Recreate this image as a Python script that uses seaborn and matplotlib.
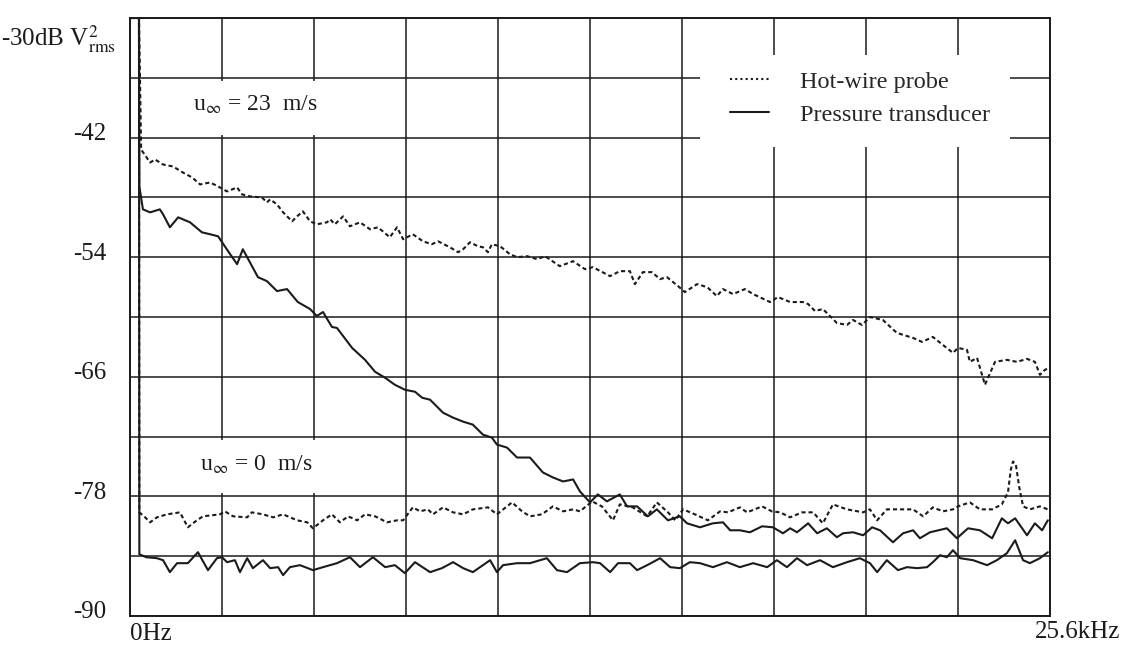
import numpy as np
import pandas as pd
import matplotlib
matplotlib.use("Agg")
import matplotlib.pyplot as plt
import matplotlib.transforms as mtransforms
import seaborn as sns
from matplotlib.patches import Rectangle
from matplotlib.lines import Line2D

# ---------------------------------------------------------------- data
# Spectra in dB V^2_rms versus frequency in kHz (0 .. 25.6 kHz)
hw23_khz = [0.0, 0.25, 0.31, 0.56, 0.70, 0.92, 1.20, 1.47, 1.73, 1.95,
            2.23, 2.45, 2.70, 2.98, 3.12, 3.34, 3.67, 3.81, 3.90, 4.09,
            4.26, 4.51, 4.65, 4.81, 5.01, 5.20, 5.48, 5.57, 5.70, 5.93,
            6.12, 6.40, 6.68, 6.90, 7.23, 7.43, 7.60, 7.87, 8.15, 8.40,
            8.57, 8.90, 9.13, 9.27, 9.46, 9.68, 9.82, 9.96, 10.07, 10.30,
            10.57, 10.77, 11.05, 11.33, 11.55, 11.96, 12.33, 12.66, 12.88, 13.36,
            13.63, 13.91, 14.05, 14.27, 14.52, 14.75, 14.94, 15.25, 15.44, 15.78,
            16.06, 16.33, 16.50, 16.78, 17.11, 17.34, 17.81, 18.03, 18.37, 18.73,
            18.87, 19.06, 19.28, 19.67, 19.95, 20.12, 20.37, 20.59, 20.95, 21.34,
            21.79, 22.04, 22.34, 22.62, 22.90, 23.04, 23.29, 23.37, 23.57, 23.79,
            24.07, 24.40, 24.68, 24.96, 25.18, 25.32, 25.46, 25.57]
hw23_db = [-30.0, -30.0, -43.2, -44.5, -44.2, -44.7, -44.9, -45.5, -46.0, -46.7,
           -46.5, -46.9, -47.4, -47.0, -47.7, -47.9, -48.0, -48.5, -48.2, -48.7,
           -49.5, -50.4, -49.9, -49.4, -50.4, -50.7, -50.5, -50.2, -50.7, -49.9,
           -50.9, -50.5, -51.2, -51.0, -52.0, -51.0, -52.2, -51.7, -52.4, -52.7,
           -52.4, -53.0, -53.5, -53.2, -52.5, -52.9, -53.0, -53.5, -52.7, -52.9,
           -53.7, -54.0, -53.9, -54.2, -53.9, -54.9, -54.4, -55.2, -55.0, -55.9,
           -55.4, -55.4, -56.7, -55.5, -55.5, -56.2, -56.0, -56.9, -57.5, -56.7,
           -57.0, -57.9, -57.2, -57.7, -57.2, -57.7, -58.5, -58.0, -58.5, -58.5,
           -58.7, -59.4, -59.2, -60.6, -60.8, -60.3, -60.8, -60.0, -60.3, -61.6,
           -62.1, -62.5, -62.0, -62.8, -63.6, -63.1, -63.3, -64.5, -64.1, -66.8,
           -64.5, -64.3, -64.5, -64.2, -64.5, -65.8, -65.3, -65.1]

pt23_khz = [0.0, 0.25, 0.26, 0.36, 0.56, 0.83, 0.92, 1.11, 1.34, 1.67,
            2.00, 2.23, 2.45, 2.73, 2.98, 3.14, 3.56, 3.81, 4.09, 4.37,
            4.67, 5.01, 5.20, 5.37, 5.62, 5.76, 6.18, 6.54, 6.82, 7.10,
            7.37, 7.65, 7.93, 8.13, 8.35, 8.71, 8.99, 9.27, 9.54, 9.82,
            10.07, 10.21, 10.49, 10.77, 11.13, 11.49, 11.77, 12.05, 12.33, 12.52,
            12.80, 13.02, 13.27, 13.63, 13.83, 14.11, 14.41, 14.66, 14.97, 15.30,
            15.50, 15.86, 16.22, 16.50, 16.70, 16.97, 17.25, 17.59, 17.89, 18.17,
            18.37, 18.56, 18.87, 19.12, 19.39, 19.67, 19.84, 20.12, 20.40, 20.65,
            20.87, 21.23, 21.51, 21.79, 21.98, 22.26, 22.73, 23.01, 23.32, 23.65,
            23.99, 24.26, 24.43, 24.63, 24.96, 25.18, 25.38, 25.54]
pt23_db = [-30.0, -30.0, -46.9, -49.2, -49.5, -49.2, -49.7, -51.0, -50.0, -50.5,
           -51.5, -51.7, -51.9, -53.4, -54.7, -53.2, -56.0, -56.4, -57.4, -57.2,
           -58.5, -59.2, -59.9, -59.5, -61.0, -61.1, -63.1, -64.3, -65.5, -66.1,
           -66.8, -67.3, -67.5, -68.1, -68.3, -69.6, -70.1, -70.5, -70.8, -71.8,
           -72.1, -72.8, -73.1, -74.1, -74.1, -75.6, -76.1, -76.5, -76.3, -77.5,
           -78.6, -77.8, -78.5, -77.8, -79.0, -79.0, -80.0, -79.3, -80.4, -80.0,
           -80.7, -81.1, -80.7, -80.6, -81.4, -81.4, -81.6, -81.0, -81.1, -81.7,
           -81.2, -81.6, -80.7, -81.7, -81.2, -82.1, -81.7, -81.6, -81.9, -81.1,
           -81.4, -82.6, -81.7, -81.4, -82.2, -81.6, -81.2, -82.2, -81.2, -81.4,
           -82.2, -80.2, -80.7, -80.2, -81.9, -80.7, -81.4, -80.4]

hw0_khz = [0.0, 0.25, 0.26, 0.42, 0.56, 0.75, 1.03, 1.39, 1.61, 1.86,
           2.03, 2.50, 2.64, 2.87, 3.26, 3.39, 3.70, 3.98, 4.26, 4.65,
           4.93, 5.09, 5.37, 5.62, 5.84, 6.07, 6.32, 6.54, 6.82, 7.15,
           7.43, 7.60, 7.87, 8.07, 8.29, 8.43, 8.71, 8.99, 9.27, 9.54,
           9.96, 10.21, 10.63, 10.91, 11.13, 11.46, 11.77, 12.05, 12.33, 12.52,
           12.86, 13.13, 13.44, 13.63, 13.99, 14.39, 14.66, 14.97, 15.17, 15.39,
           15.72, 16.08, 16.42, 16.64, 16.97, 17.17, 17.59, 17.86, 18.09, 18.37,
           18.70, 19.01, 19.28, 19.56, 19.95, 20.40, 20.59, 20.79, 21.06, 21.43,
           21.79, 22.07, 22.34, 22.62, 22.90, 23.04, 23.37, 23.65, 23.99, 24.26,
           24.43, 24.51, 24.57, 24.65, 24.74, 24.85, 25.04, 25.32, 25.54]
hw0_db = [-30.0, -30.0, -79.6, -80.1, -80.6, -80.1, -79.8, -79.6, -81.1, -80.4,
          -80.0, -79.8, -79.5, -80.0, -80.1, -79.6, -79.8, -80.1, -79.8, -80.4,
          -80.6, -81.2, -80.4, -79.8, -80.6, -80.0, -80.4, -79.8, -80.0, -80.6,
          -80.4, -80.4, -79.1, -79.5, -79.3, -79.8, -79.1, -79.6, -79.8, -79.3,
          -79.1, -79.8, -78.6, -79.5, -80.0, -79.8, -79.0, -79.5, -79.3, -79.5,
          -78.5, -79.0, -80.4, -78.8, -79.1, -80.0, -78.6, -79.6, -80.4, -79.3,
          -79.8, -80.4, -79.5, -79.6, -79.1, -79.6, -79.0, -79.5, -79.6, -80.1,
          -79.6, -79.6, -80.7, -78.8, -79.3, -79.6, -79.3, -80.4, -79.3, -79.3,
          -79.3, -80.0, -79.1, -79.5, -79.3, -79.0, -78.6, -79.3, -79.3, -78.8,
          -77.6, -75.3, -74.5, -74.8, -77.0, -79.0, -79.3, -79.0, -79.3]

pt0_khz = [0.0, 0.25, 0.26, 0.45, 0.75, 0.92, 1.11, 1.31, 1.61, 1.89,
           2.17, 2.42, 2.56, 2.70, 2.92, 3.06, 3.26, 3.42, 3.70, 3.90,
           4.12, 4.26, 4.45, 4.73, 5.09, 5.37, 5.76, 6.12, 6.40, 6.76,
           7.10, 7.37, 7.65, 7.93, 8.35, 8.68, 8.99, 9.27, 9.54, 10.02,
           10.21, 10.38, 10.77, 11.13, 11.60, 11.88, 12.16, 12.52, 12.88, 13.08,
           13.36, 13.58, 13.91, 14.11, 14.39, 14.75, 15.03, 15.30, 15.58, 15.86,
           16.22, 16.61, 16.97, 17.34, 17.73, 18.00, 18.28, 18.56, 18.84, 19.20,
           19.56, 19.95, 20.31, 20.59, 20.79, 21.06, 21.37, 21.62, 21.90, 22.18,
           22.34, 22.54, 22.73, 22.90, 23.10, 23.46, 23.85, 24.12, 24.40, 24.63,
           24.85, 25.04, 25.32, 25.54]
pt0_db = [-30.0, -30.0, -83.8, -84.1, -84.2, -84.4, -85.6, -84.7, -84.7, -83.6,
          -85.4, -84.2, -84.1, -84.6, -84.4, -85.6, -84.2, -85.2, -84.4, -85.2,
          -85.1, -85.9, -85.1, -84.9, -85.4, -85.1, -84.7, -84.1, -85.1, -84.1,
          -85.1, -84.9, -85.7, -84.6, -85.6, -85.2, -84.6, -85.2, -85.6, -84.4,
          -85.6, -84.9, -84.7, -84.7, -84.2, -85.4, -85.6, -84.7, -84.6, -84.7,
          -85.6, -84.7, -84.7, -85.4, -84.9, -84.2, -85.1, -85.2, -84.6, -84.7,
          -85.1, -84.6, -85.1, -84.7, -85.1, -84.4, -85.1, -84.2, -84.9, -84.4,
          -85.1, -84.6, -84.2, -84.7, -85.6, -84.4, -85.4, -85.1, -85.2, -85.1,
          -84.6, -83.9, -84.1, -83.4, -84.2, -84.4, -84.9, -84.4, -83.7, -82.4,
          -84.4, -84.7, -84.2, -83.6]

y_ticks = [-90, -84, -78, -72, -66, -60, -54, -48, -42, -36, -30]
y_labelled = [-90, -78, -66, -54, -42]
x_ticks = [0.0, 2.56, 5.12, 7.68, 10.24, 12.8, 15.36, 17.92, 20.48, 23.04, 25.6]
legend_labels = ["Hot-wire probe", "Pressure transducer"]

# ---------------------------------------------------------------- style
sns.set_theme(style="white")
plt.rcParams["font.family"] = ["Liberation Serif", "DejaVu Serif"]
plt.rcParams["mathtext.fontset"] = "stix"
plt.rcParams["axes.unicode_minus"] = False

INK = "#1b1b1b"
DOTTED = (0, (2.0, 1.4))
LW = 1.5

fig = plt.figure(figsize=(11.25, 6.46), dpi=100)
ax = fig.add_axes([130 / 1125, 30 / 646, 920 / 1125, 598 / 646])

series = [
    (hw23_khz, hw23_db, DOTTED),
    (pt23_khz, pt23_db, "-"),
    (hw0_khz, hw0_db, DOTTED),
    (pt0_khz, pt0_db, "-"),
]
for fx, fy, ls in series:
    df = pd.DataFrame({"freq": fx, "level": fy})
    sns.lineplot(data=df, x="freq", y="level", ax=ax, color=INK, lw=LW,
                 linestyle=ls, sort=False, estimator=None, legend=False,
                 zorder=3)

ax.set_xlim(0, 25.6)
ax.set_ylim(-90, -30)
ax.set_xticks(x_ticks)
ax.set_xticklabels([""] * len(x_ticks))
ax.set_yticks(y_ticks)
ax.set_yticklabels([f"{v:d}" if v in y_labelled else "" for v in y_ticks])
ax.tick_params(length=0, labelsize=18, pad=17, colors=INK)
lift = mtransforms.ScaledTranslation(0, 6 / 100, fig.dpi_scale_trans)
for lab in ax.get_yticklabels():
    lab.set_transform(lab.get_transform() + lift)
ax.set_xlabel("")
ax.set_ylabel("")
ax.set_axisbelow(True)
ax.grid(True, color=INK, lw=1.1)
for sp in ax.spines.values():
    sp.set_visible(True)
    sp.set_color(INK)
    sp.set_linewidth(1.4)

# white label areas that interrupt the grid
ax.add_patch(Rectangle((0.33, -41.7), 7.1, 5.4, facecolor="white",
                       edgecolor="none", zorder=1))
ax.add_patch(Rectangle((0.33, -77.7), 7.1, 5.4, facecolor="white",
                       edgecolor="none", zorder=1))
ax.add_patch(Rectangle((0.6196, 0.784), 0.337, 0.154, facecolor="white",
                       edgecolor="none", zorder=1, transform=ax.transAxes))

ax.text(1.75, -38.7, r"u$_{\infty}$ = 23  m/s", fontsize=17, ha="left",
        va="center", color=INK, zorder=4)
ax.text(1.95, -74.8, r"u$_{\infty}$ = 0  m/s", fontsize=17, ha="left",
        va="center", color=INK, zorder=4)

ax.text(-0.016, 0.965, r"-30dB V$^{2}_{\rm rms}$", transform=ax.transAxes,
        fontsize=18, ha="right", va="center", color=INK)
ax.text(0.0, -0.030, "0Hz", transform=ax.transAxes, fontsize=18,
        ha="left", va="center", color=INK)
ax.text(1.076, -0.027, "25.6kHz", transform=ax.transAxes, fontsize=18,
        ha="right", va="center", color=INK)

handles = [Line2D([], [], color=INK, lw=LW, linestyle=(0, (1.0, 1.5))),
           Line2D([], [], color=INK, lw=LW, linestyle="-")]
ax.legend(handles, legend_labels, loc="upper left", bbox_to_anchor=(0.652, 0.912),
          frameon=False, fontsize=17.5, handlelength=1.6, handletextpad=1.3,
          labelspacing=0.45, borderpad=0, borderaxespad=0)

fig.savefig("out.png", dpi=100, facecolor="white")
